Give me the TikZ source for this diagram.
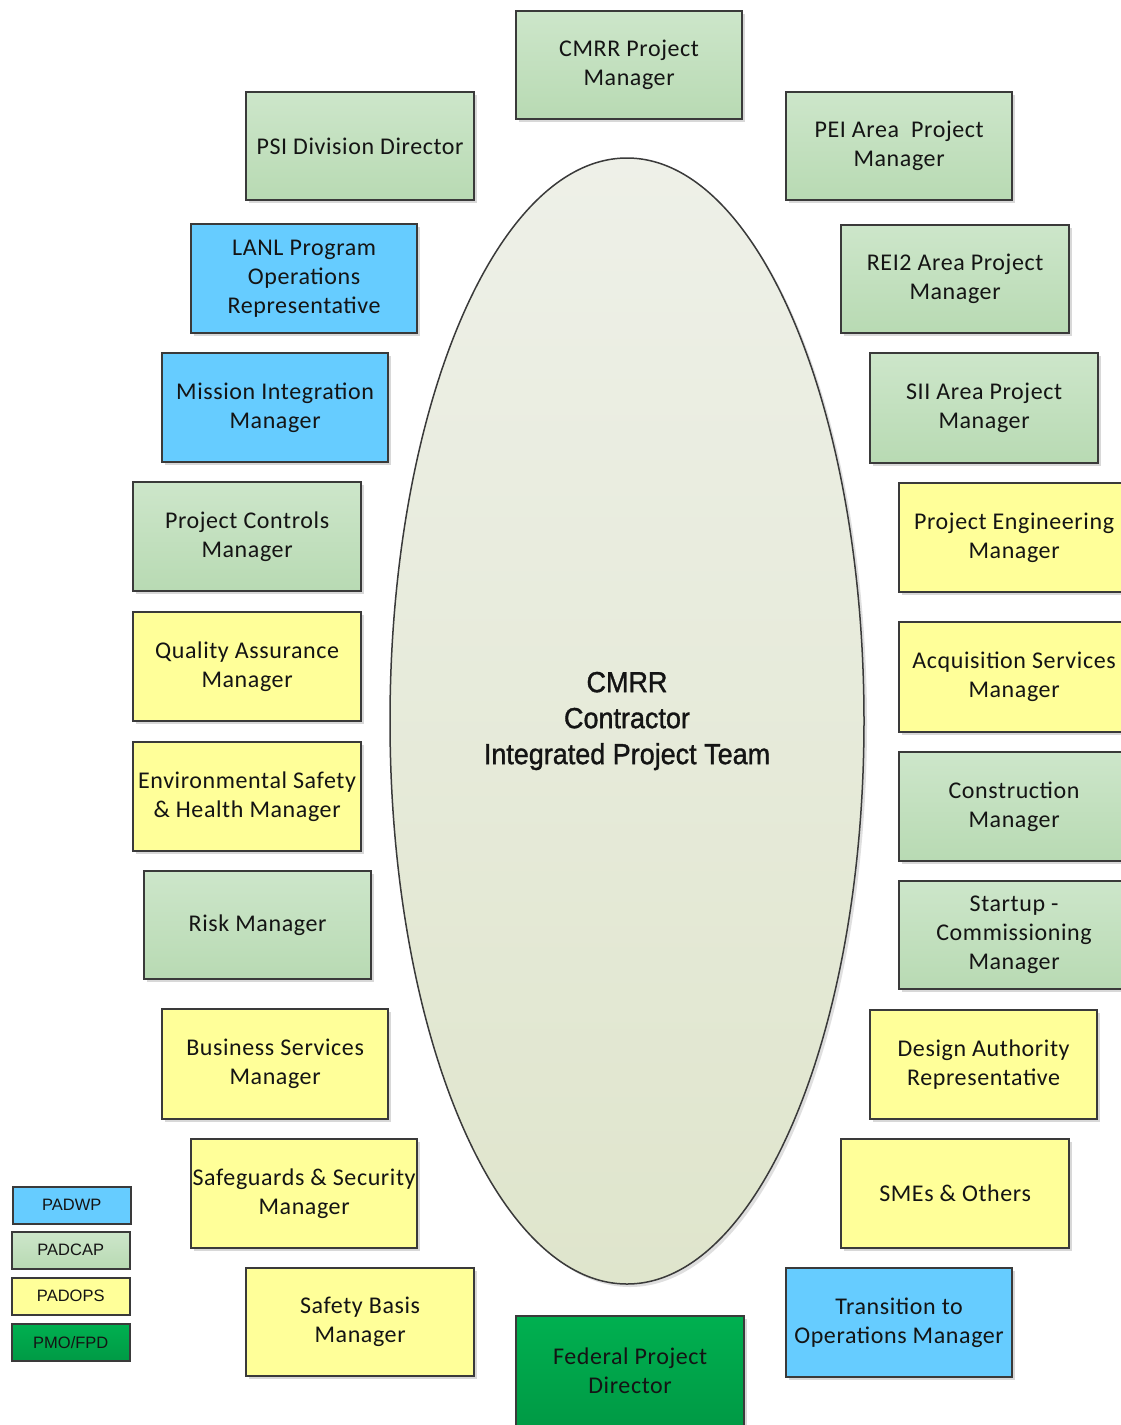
\documentclass[tikz,border=0pt]{standalone}
\usepackage{fontspec}
\setmainfont[LetterSpace=2.5]{Carlito}
\newfontfamily\arialf[FakeStretch=0.93,FakeBold=1.2]{Liberation Sans}
\newfontfamily\legf{Liberation Sans}
\usetikzlibrary{shadows,shapes.geometric}
\definecolor{edge}{HTML}{3A3A3A}
\definecolor{gtop}{HTML}{CDE6CA}
\definecolor{gbot}{HTML}{B8DAB3}
\definecolor{bfill}{HTML}{66CCFF}
\definecolor{yfill}{HTML}{FFFF99}
\definecolor{dgtop}{HTML}{00B050}
\definecolor{dgbot}{HTML}{009A45}
\definecolor{eltop}{HTML}{EEF0E8}
\definecolor{elbot}{HTML}{DFE5CC}
\definecolor{txt}{HTML}{141414}
\tikzset{
  box/.style={draw=edge, line width=2.2pt, anchor=north west, align=center,
    font=\fontsize{24}{29}\selectfont, inner sep=0pt, text=txt,
    drop shadow={shadow xshift=3pt, shadow yshift=-3pt, fill=black!30, opacity=0.5}},
  gbox/.style={box, top color=gtop, bottom color=gbot},
  bbox/.style={box, fill=bfill},
  ybox/.style={box, fill=yfill},
  dbox/.style={box, top color=dgtop, bottom color=dgbot},
  lbox/.style={draw=edge, line width=1.5pt, anchor=north west, inner sep=0pt,
    minimum width=118pt, minimum height=37pt, font=\legf\fontsize{16.5}{19}\selectfont, text=txt},
  sz/.style 2 args={minimum width=#1pt, minimum height=#2pt}
}
\begin{document}
\begin{tikzpicture}[x=1pt,y=-1pt]
\useasboundingbox (0,0) rectangle (1121,1425);
% central ellipse
\node[draw=edge, line width=1.5pt, ellipse, minimum width=474pt, minimum height=1126pt,
  top color=eltop, bottom color=elbot, inner sep=0pt,
  drop shadow={shadow xshift=3pt, shadow yshift=-3pt, fill=black!25, opacity=0.5},
  align=center, font=\arialf\fontsize{29}{36}\selectfont, text=txt]
  (team) at (627,721) {CMRR\\Contractor\\Integrated Project Team};
% boxes
\node[gbox, sz={226}{108}] (cmrr) at (515,10) {CMRR Project\\Manager};
\node[gbox, sz={228}{108}] (psi) at (245,91) {PSI Division Director};
\node[gbox, sz={226}{108}] (pei) at (785,91) {PEI Area\ \ Project\\Manager};
\node[bbox, sz={226}{109}] (lanl) at (190,223) {LANL Program\\Operations\\Representative};
\node[gbox, sz={228}{108}] (rei) at (840,224) {REI2 Area Project\\Manager};
\node[bbox, sz={226}{109}] (mim) at (161,352) {Mission Integration\\Manager};
\node[gbox, sz={228}{110}] (sii) at (869,352) {SII Area Project\\Manager};
\node[gbox, sz={228}{109}] (pcm) at (132,481) {Project Controls\\Manager};
\node[ybox, sz={230}{109}] (pem) at (898,482) {Project Engineering\\Manager};
\node[ybox, sz={228}{109}] (qam) at (132,611) {Quality Assurance\\Manager};
\node[ybox, sz={230}{110}] (asm) at (898,621) {Acquisition Services\\Manager};
\node[ybox, sz={228}{109}] (esh) at (132,741) {Environmental Safety\\\& Health Manager};
\node[gbox, sz={230}{109}] (con) at (898,751) {Construction\\Manager};
\node[gbox, sz={227}{108}] (risk) at (143,870) {Risk Manager};
\node[gbox, sz={230}{108}] (start) at (898,880) {Startup -\\Commissioning\\Manager};
\node[ybox, sz={226}{110}] (bus) at (161,1008) {Business Services\\Manager};
\node[ybox, sz={227}{109}] (dar) at (869,1009) {Design Authority\\Representative};
\node[ybox, sz={226}{109}] (sec) at (190,1138) {Safeguards \& Security\\Manager};
\node[ybox, sz={228}{109}] (sme) at (840,1138) {SMEs \& Others};
\node[ybox, sz={228}{108}] (sbm) at (245,1267) {Safety Basis\\Manager};
\node[bbox, sz={226}{109}] (tom) at (785,1267) {Transition to\\Operations Manager};
\node[dbox, sz={228}{110}] (fpd) at (515,1315) {Federal Project\\Director};
% legend
\node[lbox, fill=bfill] (lwp) at (12,1186) {PADWP};
\node[lbox, top color=gtop, bottom color=gbot] (lcap) at (11,1231) {PADCAP};
\node[lbox, fill=yfill] (lops) at (11,1277) {PADOPS};
\node[lbox, top color=dgtop, bottom color=dgbot] (lpmo) at (11,1323) {PMO/FPD};
\end{tikzpicture}
\end{document}
